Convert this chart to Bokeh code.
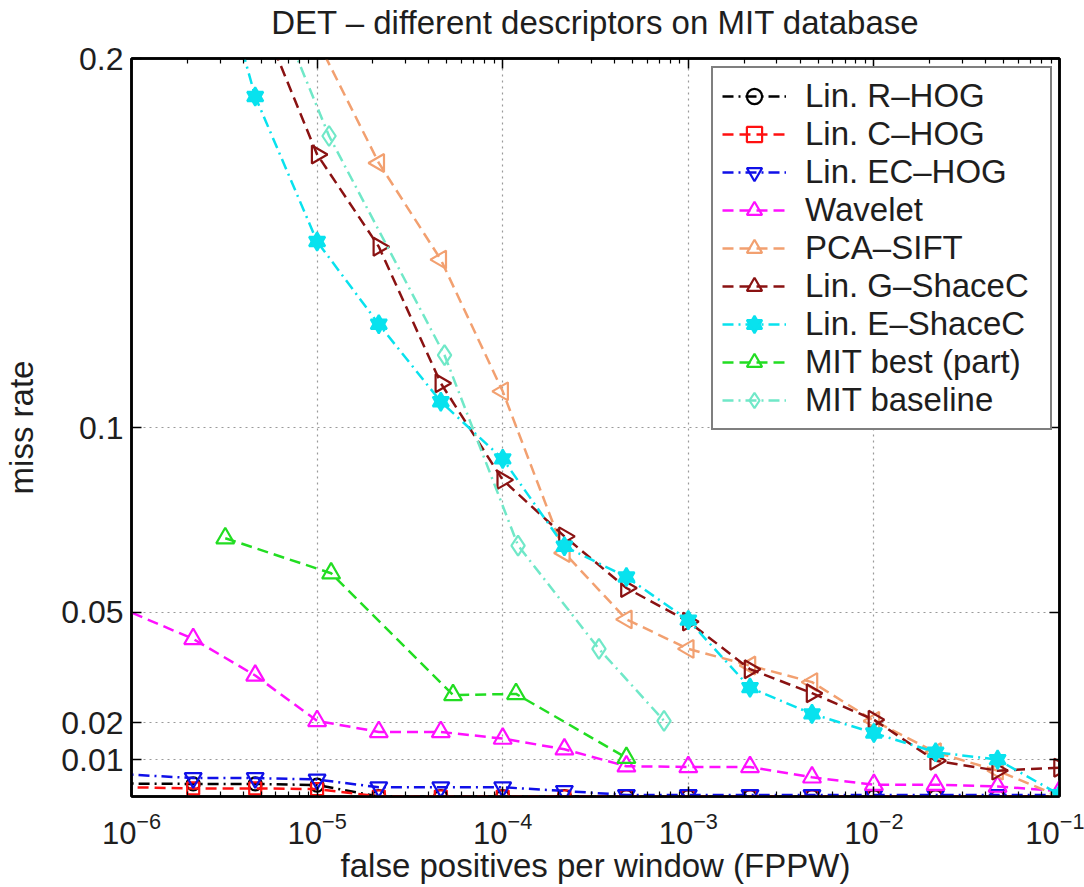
import numpy as np
from bokeh.plotting import figure
from bokeh.models import (FixedTicker, LogAxis, LinearAxis, Legend, LegendItem,
                          CustomJSTickFormatter)
from bokeh.embed import file_html
from bokeh.resources import INLINE

FONT = "Liberation Sans"
TXT = "#1e1e1e"

# ---------------- data ----------------
title_text = "DET – different descriptors on MIT database"
x_label = "false positives per window (FPPW)"
y_label = "miss rate"

x_decades = [1e-6, 1e-5, 1e-4, 1e-3, 1e-2, 1e-1]
y_ticks = [0.01, 0.02, 0.05, 0.1, 0.2]
y_tick_labels = ["0.01", "0.02", "0.05", "0.1", "0.2"]

rhog_x = [4.64e-7, 2.15e-6, 4.64e-6, 1.0e-5, 2.15e-5, 4.64e-5, 1.0e-4, 2.15e-4,
          4.64e-4, 1.0e-3, 2.15e-3, 4.64e-3, 1.0e-2, 2.15e-2, 4.64e-2, 1.0e-1]
rhog_y = [0.0036, 0.0034, 0.0034, 0.0031, 0.0, 0.0, 0.0, 0.0,
          0.0, 0.0, 0.0, 0.0, 0.0, 0.0, 0.0, 0.0]

chog_x = [4.64e-7, 2.15e-6, 4.64e-6, 1.0e-5, 2.15e-5, 4.64e-5, 1.0e-4, 2.15e-4,
          4.64e-4, 1.0e-3, 2.15e-3, 4.64e-3, 1.0e-2, 2.15e-2, 4.64e-2, 1.0e-1]
chog_y = [0.0028, 0.0022, 0.0022, 0.002, 0.0, 0.0, 0.0, 0.0,
          0.0, 0.0, 0.0, 0.0, 0.0, 0.0, 0.0, 0.0]

echog_x = [4.64e-7, 2.15e-6, 4.64e-6, 1.0e-5, 2.15e-5, 4.64e-5, 1.0e-4, 2.15e-4,
           4.64e-4, 1.0e-3, 2.15e-3, 4.64e-3, 1.0e-2, 2.15e-2, 4.64e-2, 1.0e-1]
echog_y = [0.0068, 0.005, 0.005, 0.0046, 0.0025, 0.0025, 0.0025, 0.0015,
           0.0004, 0.0004, 0.0004, 0.0004, 0.0004, 0.0004, 0.0004, 0.0004]

wave_x = [4.64e-7, 2.15e-6, 4.64e-6, 1.0e-5, 2.15e-5, 4.64e-5, 1.0e-4, 2.15e-4,
          4.64e-4, 1.0e-3, 2.15e-3, 4.64e-3, 1.0e-2, 2.15e-2, 4.64e-2, 1.0e-1]
wave_y = [0.057, 0.0427, 0.0328, 0.0205, 0.0175, 0.0175, 0.0157, 0.0128,
          0.0082, 0.008, 0.008, 0.0052, 0.0032, 0.0032, 0.0027, 0.0015]

pca_x = [1.0e-5, 2.15e-5, 4.64e-5, 1.0e-4, 2.15e-4, 4.64e-4, 1.0e-3, 2.15e-3,
         4.64e-3, 1.0e-2, 2.15e-2, 4.64e-2, 1.0e-1]
pca_y = [0.205, 0.1717, 0.1455, 0.1098, 0.066, 0.048, 0.040, 0.0355,
         0.031, 0.0205, 0.012, 0.007, 0.0]

gsc_x = [4.64e-6, 1.0e-5, 2.15e-5, 4.64e-5, 1.0e-4, 2.15e-4, 4.64e-4, 1.0e-3,
         2.15e-3, 4.64e-3, 1.0e-2, 2.15e-2, 4.64e-2, 1.0e-1]
gsc_y = [0.215, 0.174, 0.149, 0.112, 0.0858, 0.0705, 0.0565, 0.0474,
         0.0345, 0.028, 0.0208, 0.0097, 0.007, 0.0078]

esc_x = [2.15e-6, 4.64e-6, 1.0e-5, 2.15e-5, 4.64e-5, 1.0e-4, 2.15e-4, 4.64e-4,
         1.0e-3, 2.15e-3, 4.64e-3, 1.0e-2, 2.15e-2, 4.64e-2, 1.0e-1]
esc_y = [0.25, 0.1897, 0.1504, 0.128, 0.107, 0.0915, 0.0678, 0.0595,
         0.0478, 0.0295, 0.0224, 0.0172, 0.012, 0.010, 0.0005]

mitbest_x = [3.2e-6, 1.19e-5, 5.4e-5, 1.18e-4, 4.64e-4]
mitbest_y = [0.070, 0.0605, 0.0275, 0.0278, 0.0105]

mitbase_x = [5.9e-6, 1.16e-5, 4.86e-5, 1.21e-4, 3.3e-4, 7.4e-4]
mitbase_y = [0.215, 0.179, 0.1196, 0.068, 0.040, 0.0205]

# ---------------- figure ----------------
p = figure(width=1084, height=887, x_axis_type="log",
           x_range=(1e-6, 1e-1), y_range=(0, 0.2),
           output_backend="svg", toolbar_location=None,
           min_border_left=124, min_border_right=25,
           min_border_top=58, min_border_bottom=91)

p.outline_line_color = "black"
p.outline_line_width = 2.5
p.background_fill_color = "white"
p.border_fill_color = "white"

minor = [m * d for d in x_decades[:-1] for m in range(2, 10)]
xticker = FixedTicker(ticks=x_decades, minor_ticks=minor)
yticker = FixedTicker(ticks=y_ticks)

xa = p.xaxis[0]
xa.ticker = xticker
ya = p.yaxis[0]
ya.ticker = yticker
ya.major_label_overrides = {t: l for t, l in zip(y_ticks, y_tick_labels)}

for ax in (xa, ya):
    ax.axis_line_width = 2.5
    ax.axis_line_color = "black"
    ax.major_tick_in = 10
    ax.major_tick_out = 0
    ax.minor_tick_in = 5
    ax.minor_tick_out = 0
    ax.major_tick_line_width = 1.5
    ax.minor_tick_line_width = 1.2
    ax.major_label_text_font = FONT
    ax.major_label_text_font_size = "31px"
    ax.major_label_text_color = TXT
    ax.axis_label_text_font = FONT
    ax.axis_label_text_font_size = "33px"
    ax.axis_label_text_font_style = "normal"
    ax.axis_label_text_color = TXT

ya.major_label_text_font_size = "32px"
ya.minor_tick_line_color = None
xa.axis_label = x_label
ya.axis_label = y_label
xa.major_label_standoff = 15
xa.axis_label_standoff = 0
ya.major_label_standoff = 8
ya.axis_label_standoff = 18

blank = CustomJSTickFormatter(code="return ''")
# top axis carries the chart title as its label
top = LogAxis(ticker=xticker, formatter=blank, major_tick_in=10, major_tick_out=0,
              minor_tick_in=5, minor_tick_out=0, axis_line_width=2.5,
              major_tick_line_width=1.5, minor_tick_line_width=1.2,
              major_label_standoff=0, major_label_text_font_size="1px",
              axis_label=title_text, axis_label_standoff=18,
              axis_label_text_font=FONT, axis_label_text_font_size="33px",
              axis_label_text_font_style="normal", axis_label_text_color=TXT)
right = LinearAxis(ticker=yticker, formatter=blank, major_tick_in=10, major_tick_out=0,
                   minor_tick_line_color=None, axis_line_width=2.5,
                   major_tick_line_width=1.5, major_label_text_font_size="1px",
                   major_label_standoff=0, axis_label_standoff=0)
p.add_layout(top, "above")
p.add_layout(right, "right")

p.xgrid.ticker = xticker
p.ygrid.ticker = yticker
for g in (p.xgrid, p.ygrid):
    g.grid_line_color = "#9a9a9a"
    g.grid_line_dash = "2 4"
    g.grid_line_width = 1.2

DASH = "11 6"
DASHDOT = "11 5 2 5"

items = []

def add_series(name, xs, ys, color, dash, markers, size, fill=None):
    r_line = p.line(xs, ys, line_color=color, line_width=2.5, line_dash=dash)
    rs = [r_line]
    for mk, ang in markers:
        rs.append(p.scatter(xs, ys, marker=mk, angle=ang, size=size,
                            line_color=color, line_width=2.2,
                            fill_color=fill if fill else "white",
                            fill_alpha=1.0 if fill else 0.0))
    items.append(LegendItem(label=name, renderers=rs))

add_series("Lin. R–HOG", rhog_x, rhog_y, "#000000", DASHDOT, [("circle", 0)], 13)
add_series("Lin. C–HOG", chog_x, chog_y, "#ff1010", DASH, [("square", 0)], 12)
add_series("Lin. EC–HOG", echog_x, echog_y, "#1010e8", DASHDOT, [("inverted_triangle", 0)], 17)
add_series("Wavelet", wave_x, wave_y, "#ff10ff", DASH, [("triangle", 0)], 18)
add_series("PCA–SIFT", pca_x, pca_y, "#f2a070", DASH, [("triangle", np.pi / 2)], 18)
add_series("Lin. G–ShaceC", gsc_x, gsc_y, "#8a1212", DASH, [("triangle", -np.pi / 2)], 18)
add_series("Lin. E–ShaceC", esc_x, esc_y, "#08e2ee", DASHDOT,
           [("triangle", 0), ("inverted_triangle", 0)], 16, fill="#08e2ee")
add_series("MIT best (part)", mitbest_x, mitbest_y, "#22dd22", DASH, [("triangle", 0)], 18)
add_series("MIT baseline", mitbase_x, mitbase_y, "#70e8c8", DASHDOT, [("diamond", 0)], 20)

legend = Legend(items=items, location=(580, 366), margin=0,
                label_text_font=FONT, label_text_font_size="33px",
                label_text_color=TXT,
                glyph_width=64, glyph_height=38, label_height=38,
                label_width=236, spacing=0, padding=9, label_standoff=19,
                border_line_color="black", border_line_width=2.5,
                background_fill_color="white", background_fill_alpha=1.0)
p.add_layout(legend)

open("out.html", "w").write(file_html(p, INLINE))
